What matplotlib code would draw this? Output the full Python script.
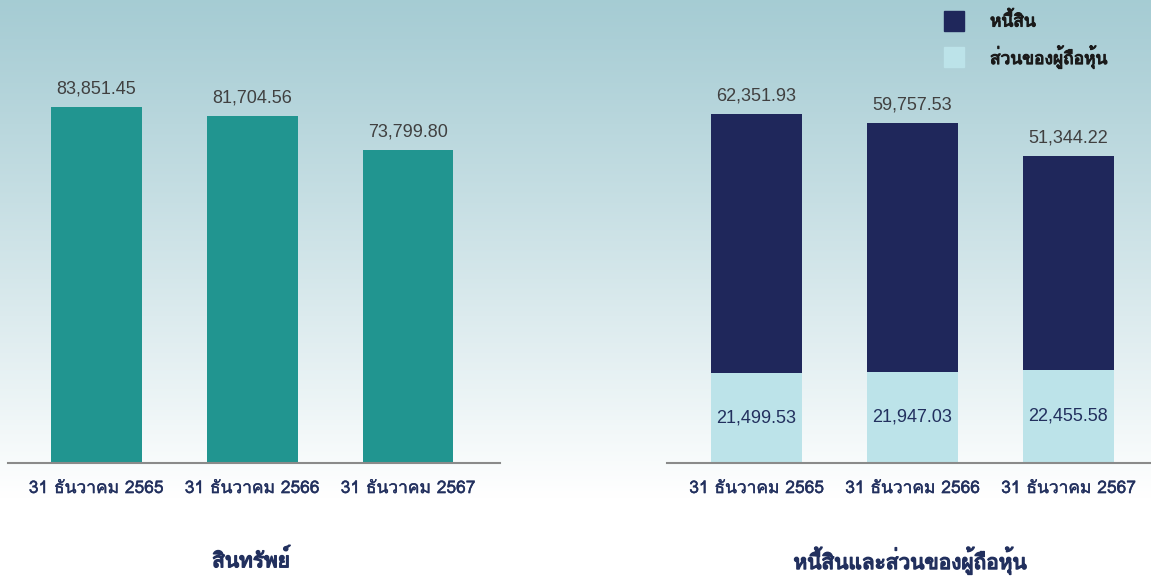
import numpy as np
import matplotlib
matplotlib.use("Agg")
import matplotlib.pyplot as plt
import matplotlib.patheffects as pe

# ข้อมูล (ล้านบาท)
years = ["31 ธันวาคม 2565", "31 ธันวาคม 2566", "31 ธันวาคม 2567"]
assets = [83851.45, 81704.56, 73799.80]
liabilities = [62351.93, 59757.53, 51344.22]
equity = [21499.53, 21947.03, 22455.58]

NAVY = "#1f275b"
TEAL = "#219590"
LIGHT = "#bce3e9"
TXT = "#22305e"
NUM = "#404040"
THAI = ["Loma", "DejaVu Sans"]
NUMFONT = ["Liberation Sans"]

def bold(c, w=0.7):
    return [pe.withStroke(linewidth=w, foreground=c)]

W, H = 1151, 578
fig = plt.figure(figsize=(W / 100, H / 100), dpi=100)

# background gradient
bg = fig.add_axes([0, 0, 1, 1], zorder=-10)
t = np.linspace(0, 1, 300)[:, None]
top = np.array([0.65, 0.80, 0.83])
a = np.clip(t / 0.86, 0, 1) ** 1.1
rgb = top[None, None, :] * (1 - a[..., None]) + np.ones(3)[None, None, :] * a[..., None]
bg.imshow(np.repeat(rgb, 2, axis=1), aspect="auto", extent=[0, 1, 0, 1], origin="upper")
bg.axis("off")

def px(x0, x1, y_base):
    return [x0 / W, (H - y_base) / H, (x1 - x0) / W, y_base / H]

x = np.arange(len(years))
bw = 0.583

# left: assets
ax1 = fig.add_axes(px(8, 500, 463))
ax1.bar(x, assets, width=bw, color=TEAL, zorder=2)
for xi, v in zip(x, assets):
    ax1.text(xi, v + 2200, f"{v:,.2f}", ha="center", va="bottom", fontsize=13,
             color=NUM, family=NUMFONT)
ax1.set_xlim(-0.565, 2.59)
ax1.set_ylim(0, 109000)

# right: liabilities + equity
ax2 = fig.add_axes(px(667, 1151, 463))
ax2.bar(x, equity, width=bw, color=LIGHT, zorder=2)
ax2.bar(x, liabilities, width=bw, bottom=equity, color=NAVY, zorder=2)
for xi, e, l in zip(x, equity, liabilities):
    ax2.text(xi, e + l + 2200, f"{l:,.2f}", ha="center", va="bottom", fontsize=13,
             color=NUM, family=NUMFONT)
    ax2.text(xi, e / 2, f"{e:,.2f}", ha="center", va="center", fontsize=13,
             color=TXT, family=NUMFONT)
ax2.set_xlim(-0.574, 2.529)
ax2.set_ylim(0, 111200)

for ax in (ax1, ax2):
    ax.patch.set_visible(False)
    for s in ("top", "right", "left"):
        ax.spines[s].set_visible(False)
    ax.spines["bottom"].set_color("#8a8a8a")
    ax.spines["bottom"].set_linewidth(1.5)
    ax.set_yticks([])
    ax.set_xticks(x)
    ax.set_xticklabels(years, fontsize=12.5, color=TXT, family=THAI)
    for lab in ax.get_xticklabels():
        lab.set_path_effects(bold(TXT, 0.3))
    ax.tick_params(axis="x", length=0, pad=13)

# titles
for xc, title in [(251, "สินทรัพย์"), (910, "หนี้สินและส่วนของผู้ถือหุ้น")]:
    fig.text(xc / W, 1 - 560 / H, title, ha="center", va="center", fontsize=15,
             color=TXT, family=THAI, path_effects=bold(TXT, 1.0))

# legend
for yy, c, lab in [(21, NAVY, "หนี้สิน"), (57, LIGHT, "ส่วนของผู้ถือหุ้น")]:
    fig.patches.append(plt.Rectangle((944 / W, 1 - (yy + 10) / H), 20 / W, 20 / H,
                                     transform=fig.transFigure, color=c, figure=fig))
    fig.text(990 / W, 1 - yy / H, lab, ha="left", va="center", fontsize=12.5,
             color="#1a1a1a", family=THAI, path_effects=bold("#1a1a1a", 0.8))

fig.savefig("out.png", dpi=100)
